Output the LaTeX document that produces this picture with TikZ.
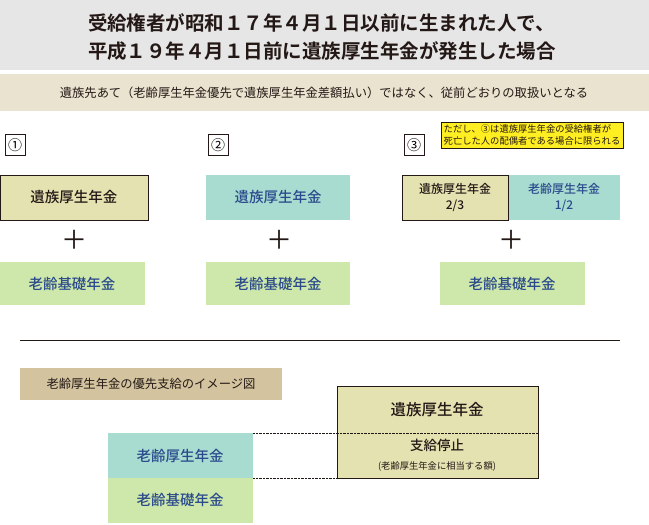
\documentclass[tikz,border=0pt]{standalone}
\usepackage{fontspec}
\setmainfont{Noto Sans CJK JP}
\newfontfamily\jpbold{Noto Sans CJK JP Bold}
\newfontfamily\jpmed{Noto Sans CJK JP Medium}
\usetikzlibrary{positioning}
\definecolor{izoku}{HTML}{E5E2B2}
\definecolor{rourei}{HTML}{A8DCD1}
\definecolor{kiso}{HTML}{CDE8AA}
\definecolor{navy}{HTML}{2B4A8C}
\definecolor{band}{HTML}{E6E6E6}
\definecolor{tanband}{HTML}{EAE3CF}
\definecolor{tanlabel}{HTML}{D3C49F}
\definecolor{note}{HTML}{FFEE22}
\definecolor{ink}{HTML}{231815}
\tikzset{
  izokubox/.style={draw=ink,fill=izoku},
  boxtext/.style={font=\jpmed\fontsize{14.5}{17}\selectfont},
  numbox/.style={draw=ink,minimum width=20pt,minimum height=21pt,inner sep=0pt,font=\fontsize{14}{14}\selectfont},
  plus/.style={font=\fontsize{26}{26}\selectfont,text=ink}
}
\begin{document}
\begin{tikzpicture}[x=1pt,y=-1pt]
  \useasboundingbox (0,0) rectangle (649,525);
  %header bands
  \fill[band] (0,0) rectangle (649,70);
  \node[font=\jpbold\fontsize{19.5}{28}\selectfont,text=ink,align=left] (title) at (322,37)
    {受給権者が昭和１７年４月１日以前に生まれた人で、\\平成１９年４月１日前に遺族厚生年金が発生した場合};
  \fill[tanband] (0,74) rectangle (649,111);
  \node[font=\fontsize{12.3}{14}\selectfont,text=ink] (sub) at (324,93)
    {遺族先あて（老齢厚生年金優先で遺族厚生年金差額払い）ではなく、従前どおりの取扱いとなる};
  %case 1
  \node[numbox,anchor=north west] (n1) at (5,134) {①};
  \path[izokubox] (0,175) rectangle (148,220);
  \node[boxtext,text=ink] (i1) at (74,197) {遺族厚生年金};
  \node[plus] (p1) at (74,240) {＋};
  \fill[kiso] (0,262) rectangle (145,305);
  \node[boxtext,text=navy] (k1) at (72,284) {老齢基礎年金};
  %case 2
  \node[numbox,anchor=north west] (n2) at (208,134) {②};
  \fill[rourei] (206,175) rectangle (350,220);
  \node[boxtext,text=navy] (i2) at (278,197) {遺族厚生年金};
  \node[plus] (p2) at (279,240) {＋};
  \fill[kiso] (206,262) rectangle (350,305);
  \node[boxtext,text=navy] (k2) at (278,284) {老齢基礎年金};
  %case 3
  \node[numbox,anchor=north west] (n3) at (404,134) {③};
  \node[draw=ink,fill=note,anchor=north west,align=left,inner sep=2.5pt,
    font=\fontsize{9.3}{12}\selectfont,text=ink] (note3) at (441,122)
    {ただし、③は遺族厚生年金の受給権者が\\死亡した人の配偶者である場合に限られる};
  \fill[rourei] (508,175) rectangle (620,220);
  \path[izokubox] (402,175) rectangle (508,220);
  \node[text=ink,align=center,font=\jpmed\fontsize{12}{16}\selectfont] (i3) at (455,197) {遺族厚生年金\\2/3};
  \node[text=navy,align=center,font=\jpmed\fontsize{12}{16}\selectfont] (r3) at (564,197) {老齢厚生年金\\1/2};
  \node[plus] (p3) at (511,240) {＋};
  \fill[kiso] (440,262) rectangle (585,305);
  \node[boxtext,text=navy] (k3) at (512,284) {老齢基礎年金};
  %separator
  \draw[ink,line width=1pt] (20,340) -- (620,340);
  %image figure
  \fill[tanlabel] (20,368) rectangle (282,400);
  \node[font=\fontsize{12.3}{14}\selectfont,text=ink] (lbl) at (151,384) {老齢厚生年金の優先支給のイメージ図};
  \fill[rourei] (108,433) rectangle (253,478);
  \fill[kiso] (108,478) rectangle (253,523);
  \node[boxtext,text=navy] (rb) at (180,456) {老齢厚生年金};
  \node[boxtext,text=navy] (kb) at (180,500) {老齢基礎年金};
  \path[izokubox] (337,386) rectangle (538,478);
  \node[text=ink,font=\jpmed\fontsize{15.5}{18}\selectfont] (ib) at (437,410) {遺族厚生年金};
  \node[text=ink,font=\jpmed\fontsize{13.5}{16}\selectfont] (stop) at (437,445) {支給停止};
  \node[text=ink,font=\fontsize{9.3}{11}\selectfont] (stopnote) at (437,466) {(老齢厚生年金に相当する額)};
  \draw[ink,densely dotted] (253,433) -- (538,433);
  \draw[ink,densely dotted] (253,478) -- (337,478);
\end{tikzpicture}
\end{document}
